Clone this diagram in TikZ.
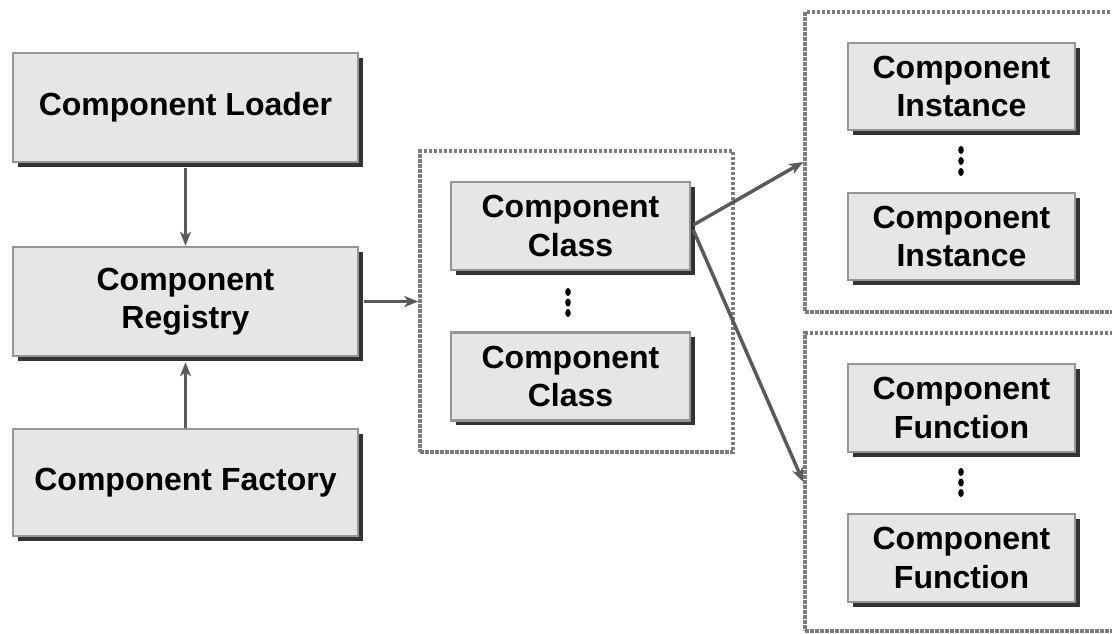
\documentclass[tikz,border=0pt]{standalone}
\usepackage{fontspec}
\setmainfont{Liberation Sans}
\usetikzlibrary{arrows.meta,shadows}
\definecolor{boxfill}{HTML}{E6E6E6}
\definecolor{boxline}{HTML}{969696}
\definecolor{boxshade}{HTML}{333333}
\definecolor{linkgray}{HTML}{5A5A5A}
\definecolor{groupgray}{HTML}{7C7C7C}
\tikzset{
  compbox/.style={draw=boxline, line width=2.5pt, fill=boxfill,
    general shadow={fill=boxshade, shadow xshift=4.5pt, shadow yshift=-4.5pt},
    align=center, inner sep=0pt,
    font=\bfseries\fontsize{32}{38.5}\selectfont},
  groupbox/.style={draw=groupgray, line width=3.5pt, dash pattern=on 3.5pt off 1.5pt,
    inner sep=0pt},
  link/.style={draw=linkgray, line width=3.5pt,
    -{Stealth[length=14pt, width=11pt, inset=4pt]}},
  vdot/.style={fill=black}
}
\begin{document}
\begin{tikzpicture}[x=1pt, y=-1pt]
\useasboundingbox (0,0) rectangle (1112,633);
\clip (0,0) rectangle (1112,633);

% dashed groups
\node[groupbox, minimum width=313pt, minimum height=301pt] (classes) at (576.5,301.5) {};
\node[groupbox, minimum width=320pt, minimum height=300pt] (instances) at (965,162) {};
\node[groupbox, minimum width=320pt, minimum height=298pt] (functions) at (965,482) {};

% left column
\node[compbox, minimum width=345pt, minimum height=109pt] (loader) at (185.5,107.5) {Component Loader};
\node[compbox, minimum width=345pt, minimum height=109pt] (registry) at (185.5,301.5) {Component\\Registry};
\node[compbox, minimum width=345pt, minimum height=107pt] (factory) at (185.5,482.5) {Component Factory};

% classes
\node[compbox, minimum width=239pt, minimum height=88pt] (class1) at (570.5,226) {Component\\Class};
\node[compbox, minimum width=239pt, minimum height=88pt] (class2) at (570.5,376.5) {Component\\Class};

% instances
\node[compbox, minimum width=227pt, minimum height=87pt] (inst1) at (961.5,86.5) {Component\\Instance};
\node[compbox, minimum width=227pt, minimum height=87pt] (inst2) at (961.5,236.5) {Component\\Instance};

% functions
\node[compbox, minimum width=227pt, minimum height=88pt] (func1) at (961.5,408) {Component\\Function};
\node[compbox, minimum width=227pt, minimum height=88pt] (func2) at (961.5,558) {Component\\Function};

% ellipsis marks
\foreach \yy in {292,302.5,313} \fill[vdot] (568,\yy) ellipse (2.8pt and 4pt);
\foreach \yy in {150,161,172} \fill[vdot] (961,\yy) ellipse (2.8pt and 4pt);
\foreach \yy in {472,482.5,493} \fill[vdot] (961,\yy) ellipse (2.8pt and 4pt);

% connectors
\draw[link] ([yshift=-4.5pt]loader.south) -- (registry.north);
\draw[link] (factory.north) -- ([yshift=-5pt]registry.south);
\draw[link] ([xshift=4.5pt]registry.east) -- (classes.west);
\draw[link] ([xshift=2pt,yshift=1pt]class1.east) -- (instances.west);
\draw[link] ([xshift=2pt,yshift=-4pt]class1.east) -- (functions.west);
\end{tikzpicture}
\end{document}
